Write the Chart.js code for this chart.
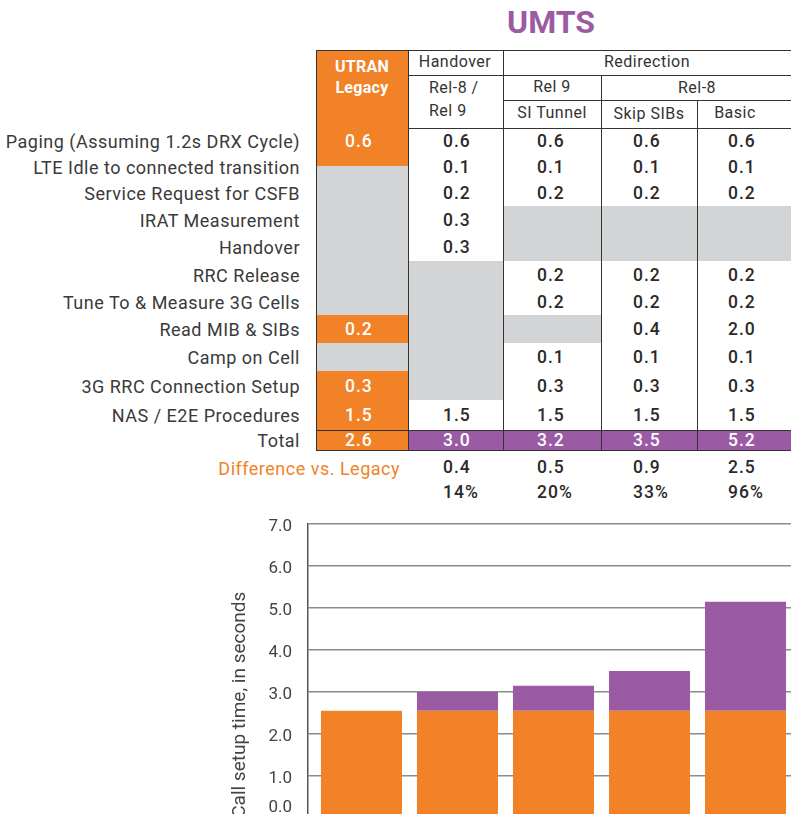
<!DOCTYPE html>
<html>
<head>
<meta charset="utf-8">
<script src="https://cdn.jsdelivr.net/npm/chart.js@4"></script>
<style>
  html, body { margin: 0; padding: 0; background: #fff; overflow: hidden; }
  body { width: 791px; height: 814px; position: relative; font-family: Roboto, "DejaVu Sans", sans-serif; color: #333; }
  .t { position: absolute; white-space: nowrap; height: 30px; line-height: 30px; }
  .box { position: absolute; }
  #myChart { position: absolute; left: 220px; top: 498px; }
</style>
</head>
<body>
<div id="sheet"></div>
<canvas id="myChart" width="574" height="346"></canvas>
<script>
// ---- table data ----
const rowLabels = [
  'Paging (Assuming 1.2s DRX Cycle)',
  'LTE Idle to connected transition',
  'Service Request for CSFB',
  'IRAT Measurement',
  'Handover',
  'RRC Release',
  'Tune To & Measure 3G Cells',
  'Read MIB & SIBs',
  'Camp on Cell',
  '3G RRC Connection Setup',
  'NAS / E2E Procedures',
  'Total'
];
const legacyTimes   = ['0.6', '', '', '', '', '', '', '0.2', '', '0.3', '1.5', '2.6'];
const handoverTimes = ['0.6', '0.1', '0.2', '0.3', '0.3', '', '', '', '', '', '1.5', '3.0'];
const siTunnelTimes = ['0.6', '0.1', '0.2', '', '', '0.2', '0.2', '', '0.1', '0.3', '1.5', '3.2'];
const skipSibsTimes = ['0.6', '0.1', '0.2', '', '', '0.2', '0.2', '0.4', '0.1', '0.3', '1.5', '3.5'];
const basicTimes    = ['0.6', '0.1', '0.2', '', '', '0.2', '0.2', '2.0', '0.1', '0.3', '1.5', '5.2'];
const diffVsLegacy  = ['0.4', '0.5', '0.9', '2.5'];
const diffPercent   = ['14%', '20%', '33%', '96%'];

// ---- chart data ----
const categories = ['UTRAN Legacy', 'Handover Rel-8 / Rel 9', 'Redirection Rel 9 SI Tunnel', 'Redirection Rel-8 Skip SIBs', 'Redirection Rel-8 Basic'];
const legacyPart = [2.55, 2.55, 2.55, 2.55, 2.55];
const extraPart  = [0, 0.45, 0.6, 0.95, 2.6];
const yTicks = [0, 1, 2, 3, 4, 5, 6, 7];

const ORANGE = '#f28228';
const PURPLE = '#9b5ba4';
const GREY = '#d3d4d6';
const LINE = '#333';

const sheet = document.getElementById('sheet');

function box(x1, y1, x2, y2, bg) {
  const d = document.createElement('div');
  d.className = 'box';
  d.style.left = x1 + 'px';
  d.style.top = y1 + 'px';
  d.style.width = (x2 - x1) + 'px';
  d.style.height = (y2 - y1) + 'px';
  d.style.background = bg;
  sheet.appendChild(d);
}

function text(str, x, cy, align, style) {
  const d = document.createElement('div');
  d.className = 't';
  d.textContent = str;
  d.style.top = (cy - 15) + 'px';
  if (align === 'center') {
    d.style.left = (x - 100) + 'px';
    d.style.width = '200px';
    d.style.textAlign = 'center';
  } else if (align === 'right') {
    d.style.right = (791 - x) + 'px';
    d.style.textAlign = 'right';
  } else {
    d.style.left = x + 'px';
  }
  Object.assign(d.style, style || {});
  sheet.appendChild(d);
}

// layout of the table
const colX = [316, 408, 503, 601, 697, 791];
const rowY = [128, 154, 180, 206, 233.5, 261, 288, 315, 343, 371, 400, 430, 450];
const valueLeft = [345, 443, 537, 633, 728];
const fills = [
  'oggggggogooo',
  'wwwwwgggggwp',
  'wwwggwwgwwwp',
  'wwwggwwwwwwp',
  'wwwggwwwwwwp'
];
const colourOf = { o: ORANGE, g: GREY, w: '#fff', p: PURPLE };
const columnValues = [legacyTimes, handoverTimes, siTunnelTimes, skipSibsTimes, basicTimes];

// title
text('UMTS', 551, 22, 'center', { fontSize: '32px', fontWeight: '700', color: PURPLE });

// legacy header block
box(colX[0], 50, colX[1], 128, ORANGE);

// cells
for (let c = 0; c < 5; c++) {
  for (let r = 0; r < 12; r++) {
    let y1 = rowY[r], y2 = rowY[r + 1];
    if (c === 0 && r === 0) y2 = 166;
    if (c === 0 && r === 1) y1 = 166;
    box(colX[c], y1, colX[c + 1], y2, colourOf[fills[c][r]]);
  }
}

// lines
function hline(x1, x2, y) { box(x1, y - 0.5, x2, y + 0.5, LINE); }
function vline(x, y1, y2) { box(x - 0.5, y1, x + 0.5, y2, LINE); }
hline(colX[0], 791, 50);
hline(408, 791, 75);
hline(503, 791, 100);
hline(408, 791, 128);
hline(colX[0], 791, 430);
hline(colX[0], 791, 450.5);
vline(colX[0], 50, 451);
vline(408, 50, 451);
vline(503, 50, 451);
vline(601, 75, 451);
vline(697, 100, 451);

// header text
const hdr = { fontSize: '16px', color: '#333', letterSpacing: '0.5px' };
const legHdr = { fontSize: '16px', fontWeight: '700', color: '#fff', letterSpacing: '0.3px' };
text('UTRAN', 362, 67, 'center', legHdr);
text('Legacy', 362, 88, 'center', legHdr);
text('Handover', 455, 62, 'center', hdr);
text('Redirection', 647, 62, 'center', hdr);
text('Rel-8 /', 429, 88, 'left', hdr);
text('Rel 9', 429, 111, 'left', hdr);
text('Rel 9', 552, 87, 'center', hdr);
text('Rel-8', 697, 88, 'center', hdr);
text('SI Tunnel', 552, 113, 'center', hdr);
text('Skip SIBs', 649, 114, 'center', hdr);
text('Basic', 735, 113, 'center', hdr);

// row labels and values
const valStyle = { fontSize: '17.5px', fontWeight: '500', color: '#2a2a2a', letterSpacing: '1px' };
rowLabels.forEach((lab, r) => {
  const cy = (rowY[r] + rowY[r + 1]) / 2;
  text(lab, 300, cy + 1, 'right', { fontSize: '18px', color: '#3a3a3a', letterSpacing: '0.5px' });
  columnValues.forEach((vals, c) => {
    if (!vals[r]) return;
    const white = fills[c][r] !== 'w';
    text(vals[r], valueLeft[c], cy, 'left', Object.assign({}, valStyle, white ? { color: '#fff' } : {}));
  });
});
text('Difference vs. Legacy', 400, 469, 'right', { fontSize: '18px', color: ORANGE, letterSpacing: '0.5px' });
diffVsLegacy.forEach((v, i) => text(v, valueLeft[i + 1], 467, 'left', valStyle));
diffPercent.forEach((v, i) => text(v, valueLeft[i + 1], 492, 'left', valStyle));

// ---- chart ----
const ctx = document.getElementById('myChart');

// the bottom "0.0" label sits a bit higher than its gridline in the original
const liftZeroLabel = {
  id: 'liftZeroLabel',
  beforeDraw(chart) {
    const items = chart.scales.y.getLabelItems();
    items.forEach(it => {
      if (it.label === '0.0') it.options.translation[1] -= 13;
    });
  }
};

new Chart(ctx, {
  type: 'bar',
  data: {
    labels: categories,
    datasets: [{
      label: 'UTRAN Legacy',
      data: legacyPart.map((v, i) => ({ x: i, y: v })),
      backgroundColor: ORANGE
    }, {
      label: 'Increase vs. Legacy',
      data: extraPart.map((v, i) => ({ x: i, y: v })),
      backgroundColor: PURPLE
    }]
  },
  plugins: [liftZeroLabel],
  options: {
    responsive: false,
    animation: false,
    layout: { padding: { top: 18, bottom: 10, left: 0, right: 0 } },
    plugins: { legend: { display: false }, tooltip: { enabled: false } },
    datasets: { bar: { barPercentage: 0.844, categoryPercentage: 1, borderWidth: 0 } },
    scales: {
      x: { type: 'linear', offset: false, min: -0.557, max: 4.505, stacked: true, display: false },
      y: {
        stacked: true,
        min: yTicks[0],
        max: yTicks[yTicks.length - 1],
        afterBuildTicks: s => { s.ticks = yTicks.map(v => ({ value: v })); },
        afterFit: s => { s.width = 88; },
        ticks: {
          callback: v => Number(v).toFixed(1),
          color: '#444',
          font: { family: 'Roboto', size: 17 },
          padding: 16,
          labelOffset: 3
        },
        grid: { color: '#8c8c8c', lineWidth: 1.5, drawTicks: false },
        border: { color: '#555', width: 1.5 },
        title: {
          display: true,
          text: 'Call setup time, in seconds',
          align: 'start',
          color: '#444',
          font: { family: 'Roboto', size: 19 },
          padding: { top: 9, bottom: 0 }
        }
      }
    }
  }
});
</script>
</body>
</html>
